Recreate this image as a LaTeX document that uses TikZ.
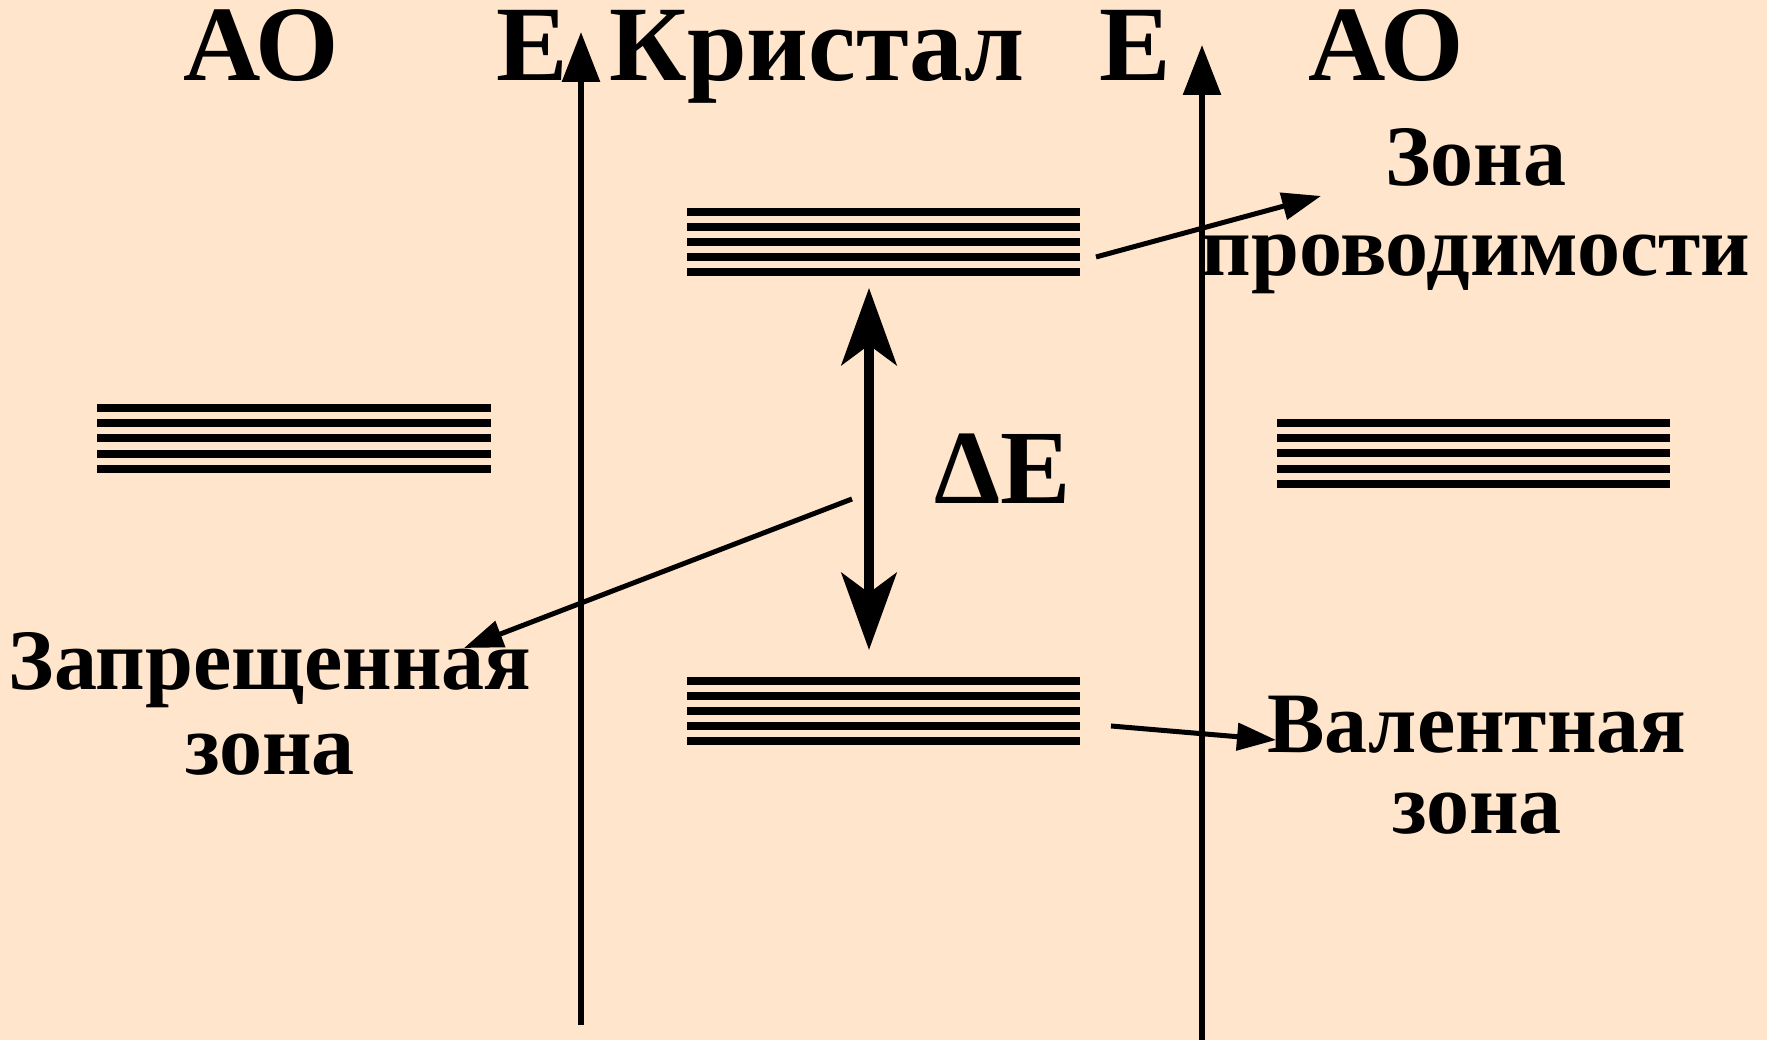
\documentclass[tikz,border=0pt]{standalone}
\usepackage{fontspec}
\setmainfont{Liberation Serif}
\usetikzlibrary{arrows.meta}
\definecolor{peach}{RGB}{255,229,204}

\begin{document}
\begin{tikzpicture}[x=1cm,y=1cm]
\tikzset{
  titletext/.style={font=\fontsize{30.5}{32}\selectfont\bfseries,inner sep=0pt,anchor=base},
  zonetext/.style={font=\fontsize{24.5}{26}\selectfont\bfseries,inner sep=0pt,anchor=base},
  bandline/.style={line width=0.75mm},
  energyaxis/.style={-{Triangle[length=5mm,width=3.7mm]},line width=0.6mm},
  gaparrow/.style={{Stealth[length=7.7mm,width=5.5mm,inset=2mm]}-{Stealth[length=7.7mm,width=5.5mm,inset=2mm]},line width=1mm},
  pointer/.style={-{Triangle[length=3.9mm,width=2.7mm]},line width=0.5mm}
}
\fill[peach] (0,0) rectangle (17.67,10.40);
\useasboundingbox (0,0) rectangle (17.67,10.40);
\node[titletext] (n_ao_l) at (2.61,9.59) {АО};
\node[titletext] (n_e_l) at (5.32,9.59) {E};
\node[titletext] (n_crystal) at (8.17,9.59) {Кристал};
\node[titletext] (n_e_r) at (11.35,9.59) {E};
\node[titletext] (n_ao_r) at (13.86,9.59) {АО};
\node[titletext,font=\fontsize{30}{32}\selectfont\bfseries] (n_de) at (10.03,5.36) {ΔE};
\node[zonetext] (n_cond1) at (14.76,8.54) {Зона};
\node[zonetext] (n_cond2) at (14.76,7.64) {проводимости};
\node[zonetext] (n_forb1) at (2.70,3.50) {Запрещенная};
\node[zonetext] (n_forb2) at (2.70,2.65) {зона};
\node[zonetext] (n_val1) at (14.77,2.87) {Валентная};
\node[zonetext] (n_val2) at (14.77,2.06) {зона};
\coordinate (c_axl_b) at (5.81,0.15);
\coordinate (c_axl_t) at (5.81,10.08);
\coordinate (c_axr_b) at (12.02,0);
\coordinate (c_axr_t) at (12.02,9.95);
\coordinate (c_gap_t) at (8.69,7.52);
\coordinate (c_gap_b) at (8.69,3.90);
\coordinate (c_forb_s) at (8.52,5.41);
\coordinate (c_forb_e) at (4.64,3.92);
\coordinate (c_cond_s) at (10.96,7.83);
\coordinate (c_cond_e) at (13.21,8.44);
\coordinate (c_val_s) at (11.11,3.14);
\coordinate (c_val_e) at (12.76,3.00);
% atomic levels, left
\draw[bandline] (0.97,6.32) -- (4.91,6.32);
\draw[bandline] (0.97,6.17) -- (4.91,6.17);
\draw[bandline] (0.97,6.02) -- (4.91,6.02);
\draw[bandline] (0.97,5.86) -- (4.91,5.86);
\draw[bandline] (0.97,5.71) -- (4.91,5.71);
% conduction band
\draw[bandline] (6.87,8.28) -- (10.80,8.28);
\draw[bandline] (6.87,8.13) -- (10.80,8.13);
\draw[bandline] (6.87,7.98) -- (10.80,7.98);
\draw[bandline] (6.87,7.83) -- (10.80,7.83);
\draw[bandline] (6.87,7.68) -- (10.80,7.68);
% valence band
\draw[bandline] (6.87,3.59) -- (10.80,3.59);
\draw[bandline] (6.87,3.44) -- (10.80,3.44);
\draw[bandline] (6.87,3.29) -- (10.80,3.29);
\draw[bandline] (6.87,3.14) -- (10.80,3.14);
\draw[bandline] (6.87,2.99) -- (10.80,2.99);
% atomic levels, right
\draw[bandline] (12.77,6.17) -- (16.70,6.17);
\draw[bandline] (12.77,6.02) -- (16.70,6.02);
\draw[bandline] (12.77,5.87) -- (16.70,5.87);
\draw[bandline] (12.77,5.71) -- (16.70,5.71);
\draw[bandline] (12.77,5.56) -- (16.70,5.56);
\draw[energyaxis] (c_axl_b) -- (c_axl_t);
\draw[energyaxis] (c_axr_b) -- (c_axr_t);
\draw[gaparrow] (c_gap_b) -- (c_gap_t);
\draw[pointer] (c_forb_s) -- (c_forb_e);
\draw[pointer] (c_cond_s) -- (c_cond_e);
\draw[pointer] (c_val_s) -- (c_val_e);
\end{tikzpicture}
\end{document}
